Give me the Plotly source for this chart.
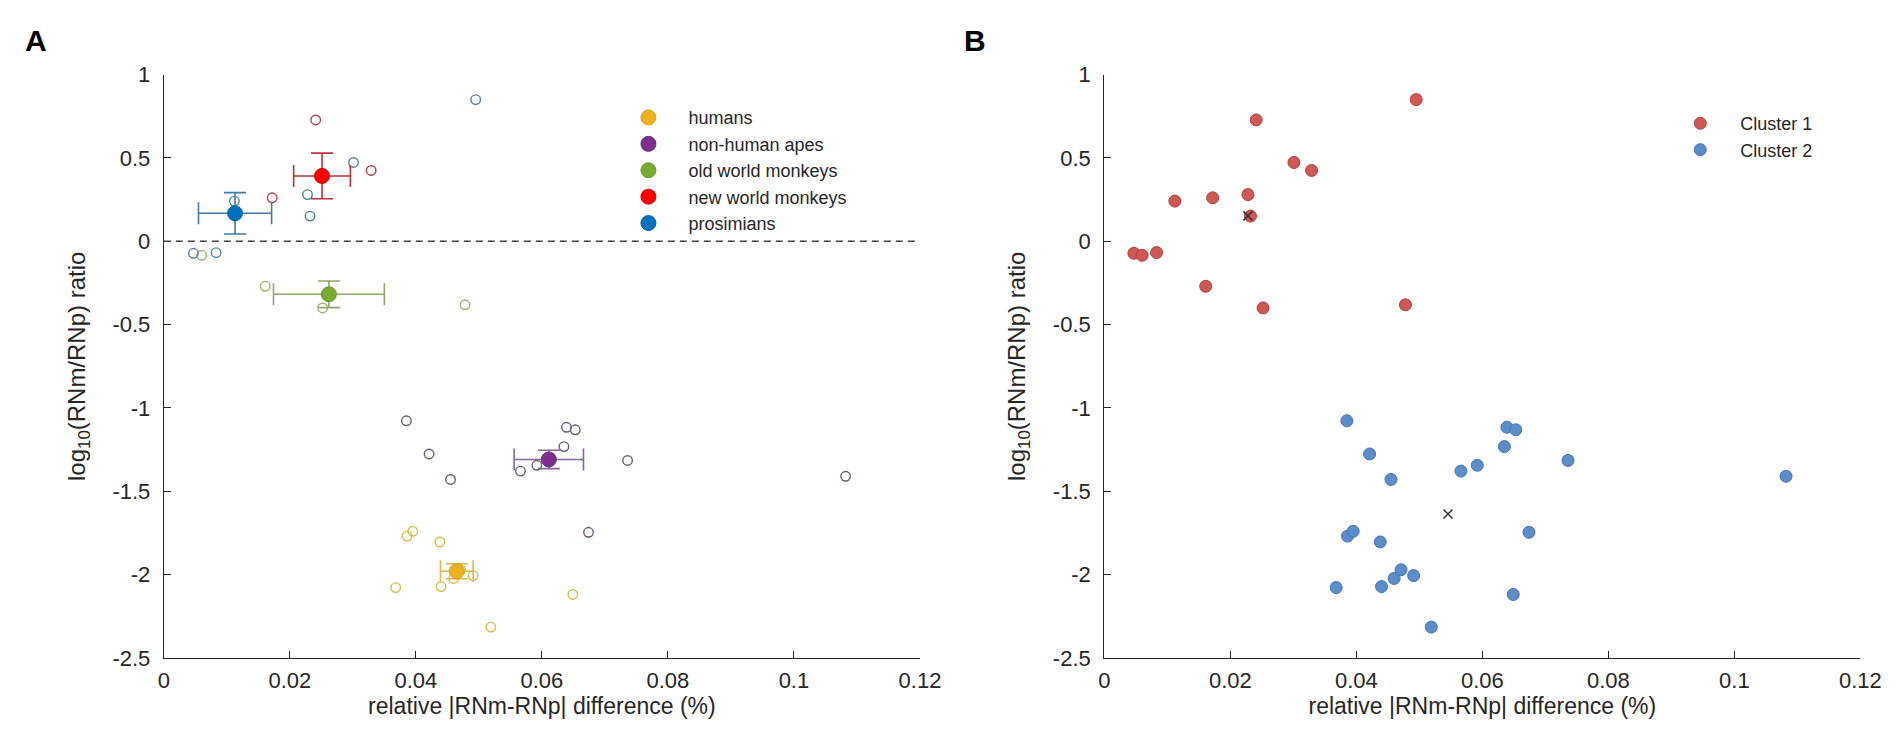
import plotly.graph_objects as go

# ---------------- data ----------------
x_ticks = [0, 0.02, 0.04, 0.06, 0.08, 0.1, 0.12]
x_tick_text = ["0", "0.02", "0.04", "0.06", "0.08", "0.1", "0.12"]
y_ticks = [-2.5, -2, -1.5, -1, -0.5, 0, 0.5, 1]
y_tick_text = ["-2.5", "-2", "-1.5", "-1", "-0.5", "0", "0.5", "1"]

group_names = ["humans", "non-human apes", "old world monkeys", "new world monkeys", "prosimians"]

humans_x = [0.0386, 0.0395, 0.0438, 0.0368, 0.0440, 0.0460, 0.0471, 0.0491, 0.0649, 0.0519]
humans_y = [-1.769, -1.740, -1.804, -2.078, -2.072, -2.023, -1.971, -2.006, -2.119, -2.315]

apes_x = [0.0385, 0.0421, 0.0455, 0.0566, 0.0592, 0.0635, 0.0639, 0.0653, 0.0736, 0.0674, 0.1082]
apes_y = [-1.077, -1.276, -1.429, -1.379, -1.344, -1.232, -1.116, -1.131, -1.315, -1.746, -1.410]

owm_x = [0.0060, 0.0161, 0.0252, 0.0478]
owm_y = [-0.084, -0.270, -0.400, -0.381]

nwm_x = [0.0172, 0.0241, 0.0329]
nwm_y = [0.261, 0.728, 0.425]

pros_x = [0.0047, 0.0083, 0.0112, 0.0228, 0.0232, 0.0301, 0.0495]
pros_y = [-0.072, -0.068, 0.241, 0.280, 0.151, 0.473, 0.850]

# group summary (filled markers with error bars), order as group_names
mean_x = [0.0465, 0.0611, 0.0262, 0.0251, 0.0113]
mean_y = [-1.980, -1.309, -0.318, 0.392, 0.168]
err_x = [0.0026, 0.0055, 0.0088, 0.0045, 0.0058]
err_y = [0.045, 0.055, 0.080, 0.137, 0.124]

cluster_names = ["Cluster 1", "Cluster 2"]

# ---------------- styles ----------------
FONT = "Liberation Sans, Arial, Helvetica, sans-serif"
TXT = "#262626"
mean_colors = ["#EDB120", "#7E2F8E", "#77AC30", "#FF0000", "#0072BD"]
mean_edges = ["#D9A21A", "#6E2880", "#689A28", "#D80000", "#0064A8"]
open_colors = ["#D8BC48", "#6D5A7B", "#9DB46A", "#B5404A", "#4F82A8"]
err_colors = ["#E2B64A", "#86669A", "#8FA868", "#B8333A", "#3F79A6"]
cluster_fill = ["#CF5754", "#5B8DC9"]
cluster_edge = ["#B23F3E", "#4575B0"]

groups_x = [humans_x, apes_x, owm_x, nwm_x, pros_x]
groups_y = [humans_y, apes_y, owm_y, nwm_y, pros_y]

fig = go.Figure()

# Panel A: individual (open) points
for i in range(5):
    fig.add_trace(go.Scatter(
        x=groups_x[i], y=groups_y[i], mode="markers",
        marker=dict(symbol="circle-open", size=9.5, color=open_colors[i], line=dict(width=1.4)),
        showlegend=False, xaxis="x", yaxis="y", hoverinfo="x+y"))

# Panel A: group means with error bars
for i in range(5):
    fig.add_trace(go.Scatter(
        x=[mean_x[i]], y=[mean_y[i]], mode="markers", name=group_names[i],
        marker=dict(symbol="circle", size=15, color=mean_colors[i],
                    line=dict(width=1, color=mean_edges[i])),
        error_x=dict(type="data", array=[err_x[i]], color=err_colors[i], thickness=1.6, width=11),
        error_y=dict(type="data", array=[err_y[i]], color=err_colors[i], thickness=1.6, width=11),
        legend="legend", xaxis="x", yaxis="y"))

# Panel B: clusters
cluster1_x = pros_x + nwm_x + owm_x
cluster1_y = pros_y + nwm_y + owm_y
cluster2_x = humans_x + apes_x
cluster2_y = humans_y + apes_y
clusters_x = [cluster1_x, cluster2_x]
clusters_y = [cluster1_y, cluster2_y]

for k in range(2):
    fig.add_trace(go.Scatter(
        x=clusters_x[k], y=clusters_y[k], mode="markers", name=cluster_names[k],
        marker=dict(symbol="circle", size=12, color=cluster_fill[k],
                    line=dict(width=1, color=cluster_edge[k])),
        legend="legend2", xaxis="x2", yaxis="y2"))

# centroids
cent_x = [sum(c) / len(c) for c in clusters_x]
cent_y = [sum(c) / len(c) for c in clusters_y]
fig.add_trace(go.Scatter(
    x=cent_x, y=cent_y, mode="markers",
    marker=dict(symbol="x-thin", size=9, line=dict(width=1.5, color="#333333")),
    showlegend=False, xaxis="x2", yaxis="y2"))

# ---------------- layout ----------------
W, H = 1901, 748
xA = [152 / W, 919 / W]
xB = [1106 / W, 1873 / W]
yD = [1 - 660 / H, 1 - 56.5 / H]

def xaxis(domain, anchor):
    return dict(domain=domain, anchor=anchor, range=[0, 0.12],
                tickvals=x_ticks, ticktext=x_tick_text,
                ticks="inside", ticklen=7, tickwidth=1, tickcolor=TXT,
                showline=True, linecolor=TXT, linewidth=1.2,
                showgrid=False, zeroline=False, ticklabelstandoff=3,
                tickfont=dict(family=FONT, size=22, color=TXT),
                title=dict(text="relative |RNm-RNp| difference (%)", standoff=3,
                           font=dict(family=FONT, size=23, color=TXT)))

def yaxis(domain, anchor):
    return dict(domain=domain, anchor=anchor, range=[-2.5, 1],
                tickvals=y_ticks, ticktext=y_tick_text,
                ticks="inside", ticklen=7, tickwidth=1, tickcolor=TXT,
                showline=True, linecolor=TXT, linewidth=1.2,
                showgrid=False, zeroline=False, ticklabelstandoff=8,
                tickfont=dict(family=FONT, size=22, color=TXT),
                title=dict(text="log<sub>10</sub>(RNm/RNp) ratio", standoff=20,
                           font=dict(family=FONT, size=24, color=TXT)))

fig.update_layout(
    width=W, height=H,
    margin=dict(l=0, r=0, t=0, b=0),
    paper_bgcolor="white", plot_bgcolor="white",
    font=dict(family=FONT, size=21, color=TXT),
    xaxis=xaxis(xA, "y"), yaxis=yaxis(yD, "x"),
    xaxis2=xaxis(xB, "y2"), yaxis2=yaxis(yD, "x2"),
    legend=dict(x=603 / W, y=1 - 82 / H, xanchor="left", yanchor="top",
                bgcolor="rgba(0,0,0,0)", itemwidth=70, tracegroupgap=0,
                font=dict(family=FONT, size=18, color=TXT)),
    legend2=dict(x=1670 / W, y=1 - 88 / H, xanchor="left", yanchor="top",
                 bgcolor="rgba(0,0,0,0)", itemwidth=70, tracegroupgap=0,
                 font=dict(family=FONT, size=18, color=TXT)),
    shapes=[dict(type="line", xref="x domain", yref="y", x0=0, x1=1, y0=0, y1=0,
                 line=dict(color="#404040", width=1.5, dash="7px,5px"))],
    annotations=[
        dict(text="<b>A</b>", xref="paper", yref="paper", x=9 / W, y=1 - 2 / H,
             xanchor="left", yanchor="top", showarrow=False,
             font=dict(family=FONT, size=30, color="black")),
        dict(text="<b>B</b>", xref="paper", yref="paper", x=962 / W, y=1 - 2 / H,
             xanchor="left", yanchor="top", showarrow=False,
             font=dict(family=FONT, size=30, color="black")),
    ],
)

fig.write_html("out.html")
